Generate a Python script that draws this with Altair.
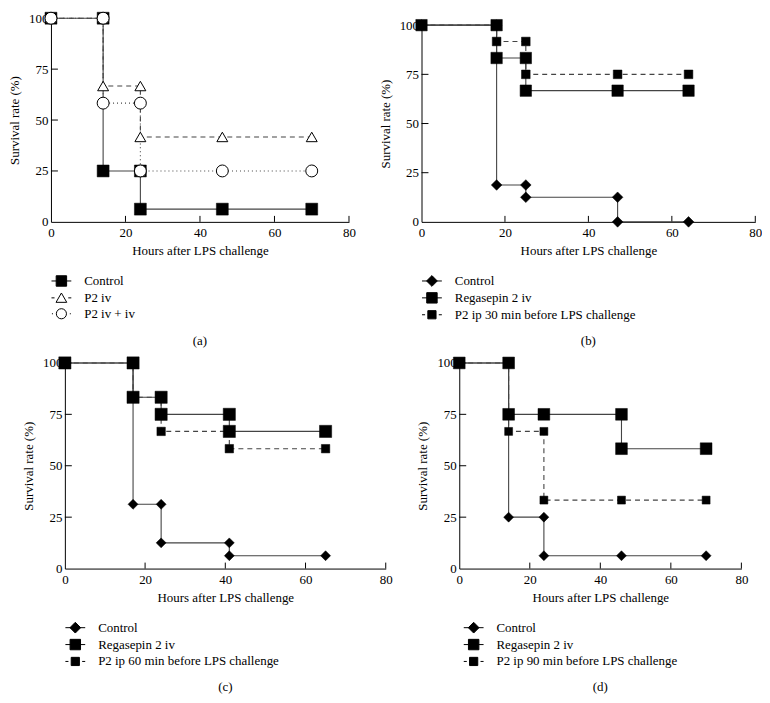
import altair as alt
import pandas as pd

FONT = "Liberation Serif"
FS = 13
X_TITLE = "Hours after LPS challenge"
Y_TITLE = "Survival rate (%)"

x_axis_values = [0, 20, 40, 60, 80]
y_axis_values = [0, 25, 50, 75, 100]
x_tick_values = [20, 40, 60, 80]
y_tick_values = [25, 50, 75, 100]

# ---------------- panel (a) ----------------
a_names = ["Control", "P2 iv", "P2 iv + iv"]
a_control_x = [0, 14, 14, 24, 24, 46, 70]
a_control_y = [100, 100, 25, 25, 6.25, 6.25, 6.25]
a_p2iv_x = [0, 14, 14, 24, 24, 46, 70]
a_p2iv_y = [100, 100, 66.7, 66.7, 41.7, 41.7, 41.7]
a_p2iviv_x = [0, 14, 14, 24, 24, 46, 70]
a_p2iviv_y = [100, 100, 58.3, 58.3, 25, 25, 25]

# ---------------- panel (b) ----------------
b_names = ["Control", "Regasepin 2 iv", "P2 ip 30 min before LPS challenge"]
b_control_x = [0, 18, 18, 25, 25, 47, 47, 64]
b_control_y = [100, 100, 18.75, 18.75, 12.5, 12.5, 0, 0]
b_rega_x = [0, 18, 18, 25, 25, 47, 64]
b_rega_y = [100, 100, 83.3, 83.3, 66.7, 66.7, 66.7]
b_p2_x = [0, 18, 18, 25, 25, 47, 64]
b_p2_y = [100, 100, 91.7, 91.7, 75, 75, 75]

# ---------------- panel (c) ----------------
c_names = ["Control", "Regasepin 2 iv", "P2 ip 60 min before LPS challenge"]
c_control_x = [0, 17, 17, 24, 24, 41, 41, 65]
c_control_y = [100, 100, 31.25, 31.25, 12.5, 12.5, 6.25, 6.25]
c_rega_x = [0, 17, 17, 24, 24, 41, 41, 65]
c_rega_y = [100, 100, 83.3, 83.3, 75, 75, 66.7, 66.7]
c_p2_x = [0, 17, 17, 24, 24, 41, 41, 65]
c_p2_y = [100, 100, 83.3, 83.3, 66.7, 66.7, 58.3, 58.3]

# ---------------- panel (d) ----------------
d_names = ["Control", "Regasepin 2 iv", "P2 ip 90 min before LPS challenge"]
d_control_x = [0, 14, 14, 24, 24, 46, 70]
d_control_y = [100, 100, 25, 25, 6.25, 6.25, 6.25]
d_rega_x = [0, 14, 14, 24, 46, 46, 70]
d_rega_y = [100, 100, 75, 75, 75, 58.3, 58.3]
d_p2_x = [0, 14, 14, 24, 24, 46, 70]
d_p2_y = [100, 100, 66.7, 66.7, 33.3, 33.3, 33.3]

# ---------------- styles ----------------
LINE_COLOR = "#444444"
SOLID = None
DASHED = [5, 4]
DOTTED = [1, 3]

# legend symbols (custom paths)
P_LINE = "M-1.33,0H1.33"
P_DASH = "M-1.33,0H-0.92M0.92,0H1.33"
P_DOT = "M-1.27,0H-1.13M1.13,0H1.27"
P_SQ = "M-0.7,-0.7H0.7V0.7H-0.7Z"
P_SQS = "M-0.55,-0.55H0.55V0.55H-0.55Z"
P_TRI = "M0,-0.65L0.72,0.6H-0.72Z"
P_CIR = "M-0.68,0A0.68,0.68,0,1,1,0.68,0A0.68,0.68,0,1,1,-0.68,0Z"
P_DIA = "M0,-0.72L0.72,0L0,0.72L-0.72,0Z"


def panel(series, styles, draw_order, width, height, top, legend_paths,
          legend_fills, caption, legend_x):
    rows = []
    for name, xs, ys in series:
        for i, (xv, yv) in enumerate(zip(xs, ys)):
            rows.append({"series": name, "x": xv, "y": yv, "i": i})
    df = pd.DataFrame(rows)
    names = [s[0] for s in series]

    X = alt.X("x:Q", scale=alt.Scale(domain=[0, 80], nice=False, zero=False),
              axis=alt.Axis(values=x_axis_values, title=X_TITLE, format="d",
                            labelFlush=False, labelOverlap=False, ticks=False,
                            tickSize=0, labelPadding=5, titlePadding=5, grid=False))
    Y = alt.Y("y:Q", scale=alt.Scale(domain=[0, 100], nice=False, zero=False,
                                     range=[height, top]),
              axis=alt.Axis(values=y_axis_values, title=Y_TITLE, format="d",
                            labelFlush=False, labelOverlap=False, ticks=False,
                            tickSize=0, labelPadding=3, titlePadding=7, grid=False))

    layers = []
    # inward ticks
    layers.append(alt.Chart(pd.DataFrame({"x": x_tick_values})).mark_rule(
        color="black", strokeWidth=1).encode(
        x=X, y=alt.value(height), y2=alt.value(height - 6)))
    layers.append(alt.Chart(pd.DataFrame({"y": y_tick_values})).mark_rule(
        color="black", strokeWidth=1).encode(
        y=Y, x=alt.value(0), x2=alt.value(7)))

    base = alt.Chart(df)
    for name in names:
        st = styles[name]
        kw = dict(color=LINE_COLOR, strokeWidth=1.1)
        if st["dash"] is not None:
            kw["strokeDash"] = st["dash"]
        layers.append(base.transform_filter(alt.datum.series == name)
                      .mark_line(**kw)
                      .encode(x=X, y=Y, order=alt.Order("i:Q")))
    for name in draw_order:
        st = styles[name]
        layers.append(base.transform_filter(alt.datum.series == name)
                      .mark_point(shape=st["shape"], size=st["size"],
                                  fill=st["fill"], fillOpacity=1, opacity=1,
                                  stroke="black", strokeWidth=st["sw"])
                      .encode(x=X, y=Y))

    leg = alt.Legend(orient="none", legendX=legend_x, legendY=height + 51.5,
                     direction="vertical", title=None, symbolSize=225,
                     symbolStrokeColor="black", symbolStrokeWidth=1,
                     symbolOffset=2.5, labelOffset=15, rowPadding=1,
                     labelLimit=400, labelFont=FONT, labelFontSize=FS,
                     labelColor="black", padding=0)
    layers.append(base.transform_filter("false").mark_point(
        strokeWidth=1, opacity=1).encode(
        shape=alt.Shape("series:N", scale=alt.Scale(domain=names, range=legend_paths),
                        legend=leg),
        fill=alt.Fill("series:N", scale=alt.Scale(domain=names, range=legend_fills),
                      legend=leg),
        stroke=alt.Stroke("series:N", scale=alt.Scale(domain=names,
                                                      range=["black"] * len(names)),
                          legend=leg),
    ))

    return alt.layer(*layers).properties(
        width=width, height=height,
        title=alt.Title(caption, orient="bottom", anchor="middle", offset=13,
                        font=FONT, fontSize=FS, fontWeight="normal", color="black"))


# panel (a)
a_styles = {
    "Control": dict(dash=SOLID, shape="square", size=144, fill="black", sw=0.5),
    "P2 iv": dict(dash=DASHED, shape="triangle-up", size=121, fill="white", sw=1),
    "P2 iv + iv": dict(dash=DOTTED, shape="circle", size=144, fill="white", sw=1),
}
pa = panel([("Control", a_control_x, a_control_y),
            ("P2 iv", a_p2iv_x, a_p2iv_y),
            ("P2 iv + iv", a_p2iviv_x, a_p2iviv_y)],
           a_styles, ["P2 iv", "Control", "P2 iv + iv"], 300, 205, 0,
           [P_LINE + P_SQ, P_DASH + P_TRI, P_DOT + P_CIR],
           ["black", "white", "white"], "(a)", 0)


def bcd_styles(names, dsize, bsize, ssize):
    return {
        names[0]: dict(dash=SOLID, shape="diamond", size=dsize, fill="black", sw=0.5),
        names[1]: dict(dash=SOLID, shape="square", size=bsize, fill="black", sw=0.5),
        names[2]: dict(dash=DASHED, shape="square", size=ssize, fill="black", sw=0.5),
    }


bcd_paths = [P_LINE + P_DIA, P_LINE + P_SQ, P_DASH + P_SQS]
bcd_fills = ["black", "black", "black"]

pb = panel([(b_names[0], b_control_x, b_control_y),
            (b_names[1], b_rega_x, b_rega_y),
            (b_names[2], b_p2_x, b_p2_y)],
           bcd_styles(b_names, 115, 132, 76), b_names, 336, 205, 7,
           bcd_paths, bcd_fills, "(b)", 0)

pc = panel([(c_names[0], c_control_x, c_control_y),
            (c_names[1], c_rega_x, c_rega_y),
            (c_names[2], c_p2_x, c_p2_y)],
           bcd_styles(c_names, 100, 150, 72), c_names, 323, 207, 0,
           bcd_paths, bcd_fills, "(c)", 0)

pd_ = panel([(d_names[0], d_control_x, d_control_y),
             (d_names[1], d_rega_x, d_rega_y),
             (d_names[2], d_p2_x, d_p2_y)],
            bcd_styles(d_names, 100, 140, 64), d_names, 284, 207, 0,
            bcd_paths, bcd_fills, "(d)", 4)

RES = dict(shape="independent", fill="independent", stroke="independent")

top_row = alt.hconcat(pa, pb, spacing=23).resolve_scale(**RES).resolve_legend(**RES)
bottom_row = alt.hconcat(pc, pd_, spacing=24).resolve_scale(**RES).resolve_legend(**RES)

chart = alt.vconcat(top_row, bottom_row, spacing=7, center=True).resolve_scale(
    **RES).resolve_legend(**RES).properties(
    padding=0
).configure_view(stroke=None).configure_axis(
    domainColor="black", domainWidth=1, labelFont=FONT, titleFont=FONT,
    labelFontSize=FS, titleFontSize=FS, labelColor="black", titleColor="black",
    titleFontWeight="normal"
).configure_legend(
    labelFont=FONT, labelFontSize=FS, labelColor="black"
).configure_title(font=FONT, fontSize=FS, fontWeight="normal", color="black")

chart.save("out.html", embed_options={"renderer": "svg", "actions": False})
